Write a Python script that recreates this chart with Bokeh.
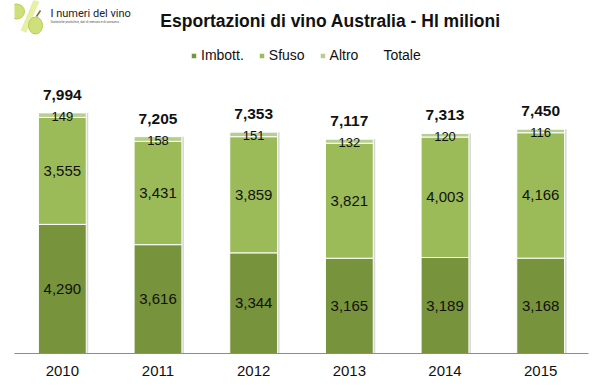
from bokeh.plotting import figure
from bokeh.models import (ColumnDataSource, FactorRange, Range1d, Legend, LegendItem, Label)
from bokeh.core.properties import value
from bokeh.transform import dodge
from bokeh.embed import file_html
from bokeh.resources import INLINE

years = ["2010", "2011", "2012", "2013", "2014", "2015"]
imbott = [4290, 3616, 3344, 3165, 3189, 3168]
sfuso = [3555, 3431, 3859, 3821, 4003, 4166]
altro = [149, 158, 151, 132, 120, 116]
totale = [7994, 7205, 7353, 7117, 7313, 7450]
series = ["Imbott.", "Sfuso", "Altro"]
colors = ["#77933C", "#9BBB59", "#B7CE8E"]

FONT = "Liberation Sans"
PX = 0.0301          # px per unit (for label offsets)
FH = 353             # frame height in px
CW = 574 / 6         # px per category

def sx(page_x):      # page pixel -> synthetic x (decoration only)
    return (page_x - 14) / CW

def sy(page_y):      # page pixel -> data y (decoration only)
    return (353 - page_y) / PX

src = ColumnDataSource(dict(
    x=years, Imbott=imbott, Sfuso=sfuso, Altro=altro, Totale=totale,
    imb_mid=[v / 2 for v in imbott],
    sf_mid=[a + b / 2 for a, b in zip(imbott, sfuso)],
    al_mid=[a + b + c / 2 - 1 / PX for a, b, c in zip(imbott, sfuso, altro)],
    tot_y=[t + 18 / PX for t in totale],
    imb_t=[f"{v:,}" for v in imbott],
    sf_t=[f"{v:,}" for v in sfuso],
    al_t=[f"{v:,}" for v in altro],
    tot_t=[f"{v:,}" for v in totale],
))

p = figure(frame_width=574, frame_height=FH, x_range=FactorRange(*years, range_padding=0),
           y_range=Range1d(0, FH / PX), output_backend="svg", toolbar_location=None,
           min_border_left=14, min_border_right=15, min_border_top=0, min_border_bottom=36)
p.outline_line_color = None
p.xgrid.visible = False
p.ygrid.visible = False
p.yaxis.visible = False
p.background_fill_color = "white"

# logo decoration
p.segment(x0=[sx(36)], y0=[sy(0)], x1=[sx(23)], y1=[sy(31)], line_color="#e6efa4", line_width=6)
p.ellipse(x=[sx(16), sx(35)], y=[sy(11), sy(25)], width=[16 / CW, 14 / CW], height=[15 / PX, 17 / PX],
          fill_color="#cde07a", line_color="#b5cc58", line_width=1)
p.segment(x0=[sx(9), sx(36)], y0=[sy(8), sy(16)], x1=[sx(4), sx(40)], y1=[sy(5), sy(10)],
          line_color="#7a6a3a", line_width=1.5)

# subtle bar shadow on the right side
p.vbar(x=dodge("x", 2 / CW, range=p.x_range), top="Totale", width=0.5, source=src,
       fill_color="#d6d6d6", line_color=None)

renderers = p.vbar_stack(["Imbott", "Sfuso", "Altro"], x="x", width=0.5, source=src,
                         fill_color=colors, line_color="white", line_width=1)

p.xaxis.axis_line_color = "#8c8c8c"
p.xaxis.major_tick_line_color = None
p.xaxis.major_tick_out = 0
p.xaxis.major_tick_in = 0
p.xaxis.minor_tick_out = 0
p.xaxis.minor_tick_in = 0
p.xaxis.minor_tick_line_color = None
p.xaxis.major_label_text_font = FONT
p.xaxis.major_label_text_font_size = "15px"
p.xaxis.major_label_text_color = "#111111"
p.xaxis.major_label_standoff = 12

common = dict(x="x", source=src, text_align="center", text_baseline="middle",
              text_font=value(FONT), text_color="#111111")
p.text(y="imb_mid", text="imb_t", text_font_size="15px", **common)
p.text(y="sf_mid", text="sf_t", text_font_size="15px", **common)
p.text(y="al_mid", text="al_t", text_font_size="13px", **common)
p.text(y="tot_y", text="tot_t", text_font_size="15.5px", text_font_style="bold", **common)

dummy = p.scatter(x=[], y=[], fill_alpha=0, line_alpha=0)
items = [LegendItem(label=s, renderers=[r]) for s, r in zip(series, renderers)]
items.append(LegendItem(label="Totale", renderers=[dummy]))
legend = Legend(items=items, orientation="horizontal", location=(176, 290),
                glyph_width=7, glyph_height=7, label_standoff=4, spacing=14,
                padding=0, margin=0, label_height=16,
                label_text_font=FONT, label_text_font_size="14px",
                label_text_color="#111111",
                border_line_color=None, background_fill_alpha=0)
p.add_layout(legend)

p.add_layout(Label(x=sx(330), y=sy(20), text="Esportazioni di vino Australia - Hl milioni",
                   text_align="center", text_baseline="middle",
                   text_font=FONT, text_font_style="bold",
                   text_font_size="17.5px", text_color="#111111"))
p.add_layout(Label(x=sx(50), y=sy(13), text="I numeri del vino",
                   text_align="left", text_baseline="middle",
                   text_font="Roboto", text_font_size="11px", text_color="#222222"))
p.add_layout(Label(x=sx(50), y=sy(21), text="Statistiche produttive, dati di mercato e di consumo",
                   text_align="left", text_baseline="middle",
                   text_font="Roboto", text_font_size="3px", text_color="#555555"))

open("out.html", "w").write(file_html(p, INLINE))
